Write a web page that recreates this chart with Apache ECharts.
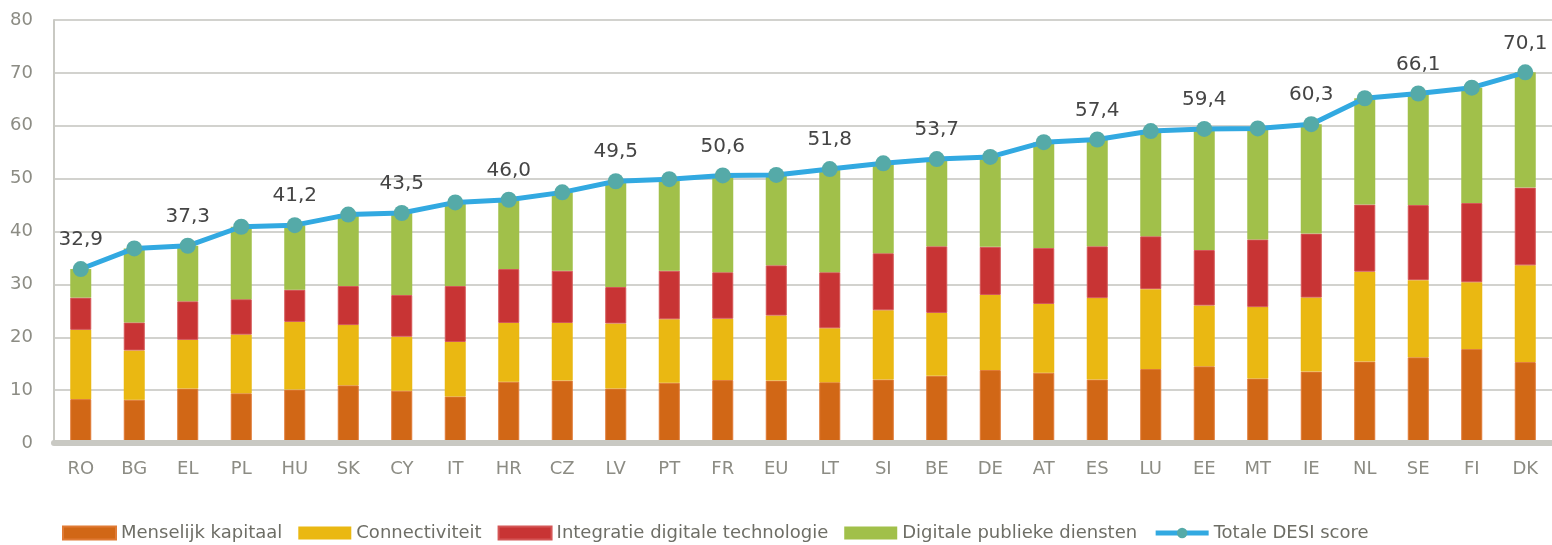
<!DOCTYPE html>
<html>
<head>
<meta charset="utf-8">
<title>DESI</title>
<script src="https://cdn.jsdelivr.net/npm/echarts@6/dist/echarts.min.js"></script>
<style>
    html, body { margin: 0; padding: 0; background: #fff; }
    #chart_01 { width: 1552px; height: 545px; }
</style>
</head>
<body>
<div id="chart_01"></div>
<script>
var countries = ['RO', 'BG', 'EL', 'PL', 'HU', 'SK', 'CY', 'IT', 'HR', 'CZ', 'LV', 'PT', 'FR', 'EU',
    'LT', 'SI', 'BE', 'DE', 'AT', 'ES', 'LU', 'EE', 'MT', 'IE', 'NL', 'SE', 'FI', 'DK'];
var menselijk = [8.3, 8.2, 10.3, 9.4, 10.1, 10.9, 9.9, 8.8, 11.6, 11.8, 10.3, 11.4, 11.9, 11.8,
    11.5, 12.0, 12.7, 13.8, 13.3, 12.0, 14.0, 14.5, 12.2, 13.5, 15.4, 16.2, 17.8, 15.3];
var connectiviteit = [13.1, 9.3, 9.2, 11.1, 12.8, 11.4, 10.2, 10.3, 11.1, 10.9, 12.3, 12.0, 11.6, 12.3,
    10.2, 13.1, 11.9, 14.2, 13.0, 15.4, 15.1, 11.5, 13.5, 14.0, 17.0, 14.6, 12.6, 18.3];
var integratie = [6.1, 5.3, 7.3, 6.7, 6.1, 7.4, 7.9, 10.6, 10.2, 9.9, 6.9, 9.2, 8.8, 9.5,
    10.6, 10.8, 12.6, 9.1, 10.6, 9.8, 10.0, 10.5, 12.8, 12.1, 12.7, 14.2, 15.0, 14.7];
var publiek = [5.4, 14.0, 10.5, 13.7, 12.2, 13.5, 15.5, 15.8, 13.1, 14.8, 20.0, 17.3, 18.3, 17.1,
    19.5, 17.0, 16.5, 17.0, 20.0, 20.2, 19.9, 22.9, 21.0, 20.7, 20.1, 21.1, 21.8, 21.8];
var totaal = [32.9, 36.8, 37.3, 40.9, 41.2, 43.2, 43.5, 45.5, 46.0, 47.4, 49.5, 49.9, 50.6, 50.7,
    51.8, 52.9, 53.7, 54.1, 56.9, 57.4, 59.0, 59.4, 59.5, 60.3, 65.2, 66.1, 67.2, 70.1];
// landen waarvan de totaalscore als label getoond wordt
var labelled = ['RO', 'EL', 'HU', 'CY', 'HR', 'LV', 'FR', 'LT', 'BE', 'ES', 'EE', 'IE', 'SE', 'DK'];

var chart1;

function setChart1() {
    var dom = document.getElementById("chart_01");
    chart1 = echarts.init(dom);
    var font = 'DejaVu Sans';
    var barSeries = function (name, data, color, border) {
        return {
            name: name,
            type: 'bar',
            stack: 'desi',
            barWidth: 21,
            data: data,
            itemStyle: {
                color: color,
                borderColor: border,
                borderWidth: border ? 1 : 0
            }
        };
    };
    var option = {
        animation: false,
        grid: {
            left: 54,
            right: -1,
            top: 20,
            bottom: 102
        },
        legend: {
            left: 57,
            top: 519,
            itemWidth: 53,
            itemHeight: 13,
            itemGap: 16,
            textStyle: {
                fontFamily: font,
                fontSize: 18,
                color: '#6e6e66'
            },
            data: [
                {name: 'Menselijk kapitaal', icon: 'rect'},
                {name: 'Connectiviteit', icon: 'rect'},
                {name: 'Integratie digitale technologie', icon: 'rect'},
                {name: 'Digitale publieke diensten', icon: 'rect'},
                {
                    name: 'Totale DESI score',
                    lineStyle: {width: 5, color: '#32a9e1'},
                    itemStyle: {color: '#55aaa8'}
                }
            ]
        },
        xAxis: {
            type: 'category',
            data: countries,
            z: 10,
            axisLine: {
                lineStyle: {color: '#c9c9c3', width: 6}
            },
            axisTick: {show: false},
            axisLabel: {
                margin: 17,
                fontFamily: font,
                fontSize: 18,
                color: '#8c8c84'
            }
        },
        yAxis: {
            type: 'value',
            min: 0,
            max: 80,
            interval: 10,
            axisLine: {
                show: true,
                lineStyle: {color: '#c9c9c3', width: 2}
            },
            axisTick: {show: false},
            splitLine: {
                lineStyle: {color: '#d2d2ce', width: 2}
            },
            axisLabel: {
                margin: 21,
                fontFamily: font,
                fontSize: 18,
                color: '#8c8c84'
            }
        },
        series: [
            barSeries('Menselijk kapitaal', menselijk, '#d16716', '#e07a34'),
            barSeries('Connectiviteit', connectiviteit, '#eab812'),
            barSeries('Integratie digitale technologie', integratie, '#c83434', '#d45656'),
            barSeries('Digitale publieke diensten', publiek, '#a1c04a'),
            {
                name: 'Totale DESI score',
                type: 'line',
                data: totaal,
                z: 5,
                symbol: 'circle',
                symbolSize: 16,
                lineStyle: {color: '#32a9e1', width: 5},
                itemStyle: {color: '#55aaa8'},
                label: {
                    show: true,
                    position: 'top',
                    distance: 11,
                    fontFamily: font,
                    fontSize: 20,
                    color: '#454545',
                    formatter: function (p) {
                        if (labelled.indexOf(p.name) < 0) return '';
                        return p.value.toFixed(1).replace('.', ',');
                    }
                }
            }
        ]
    };
    chart1.setOption(option, true);
}

window.onresize = function () {
    chart1 && chart1.resize();
};
setChart1();
</script>
</body>
</html>
